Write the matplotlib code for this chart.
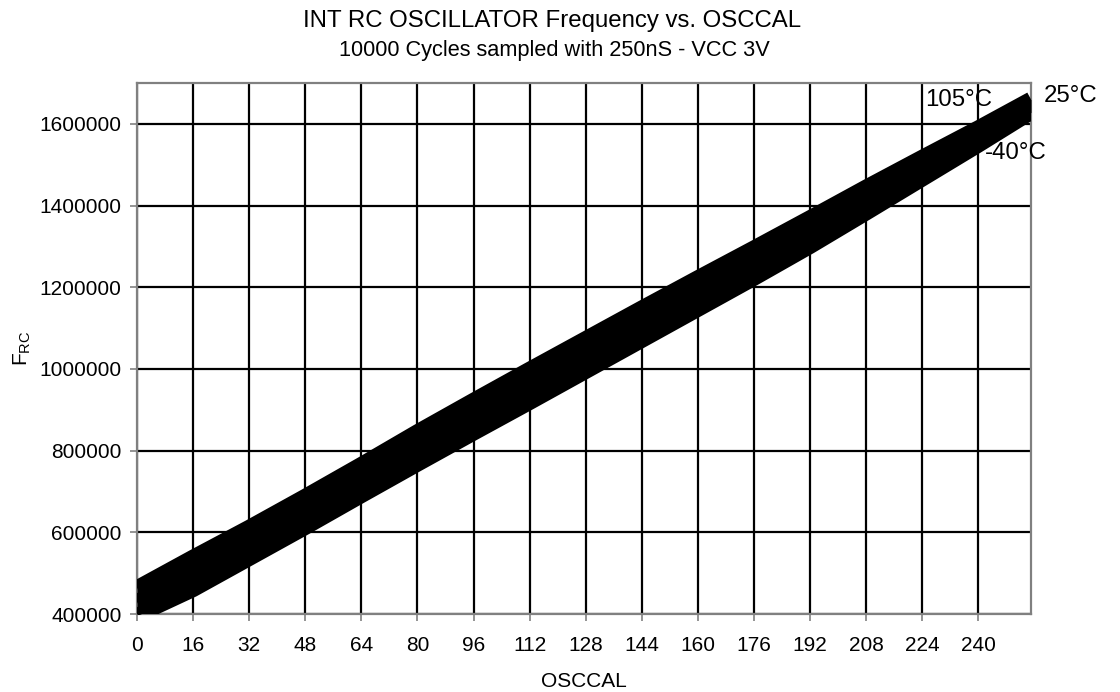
import matplotlib
matplotlib.use("Agg")
import matplotlib.pyplot as plt

# ---- data ----
osccal = [0, 16, 32, 48, 64, 80, 96, 112, 128, 144, 160, 176, 192, 208, 224, 240, 255]
f_25c = [464000, 539000, 612000, 688000, 766000, 846000, 923000, 999000, 1074000,
         1149000, 1223000, 1296000, 1370000, 1445000, 1518000, 1590000, 1660000]
f_105c = [430000, 500000, 574000, 650000, 728000, 806000, 883000, 958000, 1034000,
          1110000, 1185000, 1259000, 1335000, 1413000, 1491000, 1569000, 1644000]
f_m40c = [396000, 460000, 536000, 612000, 690000, 767000, 843000, 918000, 994000,
          1070000, 1146000, 1222000, 1300000, 1382000, 1465000, 1548000, 1628000]

x_ticks = list(range(0, 241, 16))
y_ticks = [400000, 600000, 800000, 1000000, 1200000, 1400000, 1600000]

title = "INT RC OSCILLATOR Frequency vs. OSCCAL"
subtitle = "10000 Cycles sampled with 250nS - VCC 3V"

plt.rcParams['font.family'] = ['Liberation Sans', 'DejaVu Sans']
plt.rcParams['mathtext.default'] = 'regular'

fig = plt.figure(figsize=(11.2, 6.92), dpi=100)
ax = fig.add_axes([0.1223, 0.1127, 0.7982, 0.7674])

ax.fill_between(osccal, f_m40c, f_25c, color='black', lw=0, zorder=3)
for series in (f_m40c, f_105c, f_25c):
    ax.plot(osccal, series, color='black', lw=11, solid_capstyle='butt',
            solid_joinstyle='round', zorder=3)

ax.set_xlim(0, 255)
ax.set_ylim(400000, 1700000)
ax.set_xticks(x_ticks)
ax.set_xticklabels([str(v) for v in x_ticks])
ax.set_yticks(y_ticks)
ax.set_yticklabels([str(v) for v in y_ticks])
ax.grid(True, color='black', lw=1.6, zorder=1)
ax.set_axisbelow(True)

for s in ax.spines.values():
    s.set_color('#808080')
    s.set_linewidth(1.6)
ax.tick_params(axis='both', direction='out', length=5, width=1.2, color='#808080',
               labelsize=15)
ax.tick_params(axis='x', pad=11)
ax.tick_params(axis='y', pad=6)

ax.set_xlabel("OSCCAL", fontsize=15, labelpad=12)
ax.set_ylabel("F$_{RC}$", fontsize=15, labelpad=5)

ax.text(234.5, 1658000, "105°C", fontsize=17.3, ha='center', va='center', clip_on=False, zorder=5)
ax.text(266.4, 1668000, "25°C", fontsize=17.3, ha='center', va='center', clip_on=False, zorder=5)
ax.text(250.7, 1528500, "-40°C", fontsize=17.3, ha='center', va='center', clip_on=False, zorder=5)

fig.text(0.493, 0.969, title, fontsize=17.3, ha='center', va='center')
fig.text(0.495, 0.927, subtitle, fontsize=15.7, ha='center', va='center')

fig.savefig("out.png", dpi=100, facecolor='white')
